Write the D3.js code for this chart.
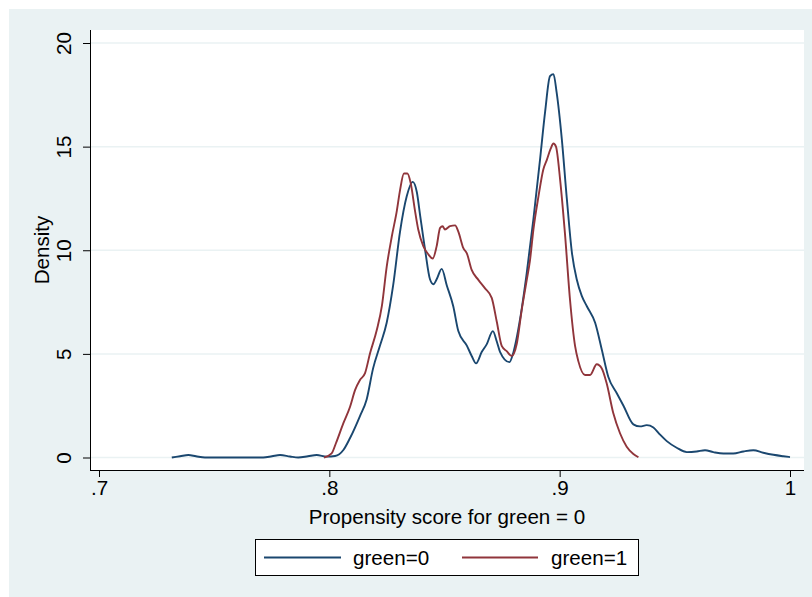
<!DOCTYPE html>
<html>
<head>
<meta charset="utf-8">
<script src="https://cdn.jsdelivr.net/npm/d3@7"></script>
<style>
  body { margin: 0; background: #fff; }
  text { font-family: "Liberation Sans", Arial, sans-serif; fill: #000; }
</style>
</head>
<body>
<svg id="chart" width="812" height="597"></svg>
<script>
// ---- Data ----
const seriesNames = ["green=0", "green=1"];
const seriesColors = ["#1a476f", "#90353b"];

// green=0 : [propensity score, density]
const green0 = [
  [0.7316,0.00],[0.7352,0.06],[0.7388,0.12],[0.7421,0.06],[0.7460,0.00],[0.7569,0.00],
  [0.7713,0.00],[0.7751,0.06],[0.7786,0.12],[0.7829,0.05],[0.7865,0.00],[0.7907,0.06],
  [0.7945,0.12],[0.7989,0.04],[0.8025,0.07],[0.8061,0.36],[0.8090,0.94],[0.8133,2.0],
  [0.8162,2.8],[0.8190,4.3],[0.8220,5.4],[0.8249,6.5],[0.8277,8.3],[0.8307,10.9],
  [0.8336,12.6],[0.8362,13.3],[0.8380,12.8],[0.8394,11.7],[0.8416,10.0],[0.8437,8.6],
  [0.8452,8.36],[0.8466,8.6],[0.8488,9.1],[0.8510,8.3],[0.8538,7.3],[0.8560,6.1],
  [0.8597,5.4],[0.8618,4.9],[0.8637,4.54],[0.8662,5.1],[0.8683,5.46],[0.8710,6.1],
  [0.8727,5.6],[0.8741,5.1],[0.8782,4.6],[0.8799,5.07],[0.8828,6.67],[0.8857,8.9],
  [0.8886,11.5],[0.8915,14.4],[0.8937,16.7],[0.8958,18.4],[0.8973,18.5],[0.8987,17.6],
  [0.9009,15.4],[0.9031,12.5],[0.9053,9.9],[0.9074,8.6],[0.9096,7.8],[0.9118,7.3],
  [0.9154,6.5],[0.9183,5.2],[0.9211,3.9],[0.9248,3.1],[0.9277,2.5],[0.9320,1.6],
  [0.9349,1.5],[0.9378,1.56],[0.9407,1.45],[0.9436,1.1],[0.9465,0.79],[0.9508,0.47],
  [0.9552,0.26],[0.9595,0.29],[0.9631,0.35],[0.9667,0.26],[0.9711,0.19],[0.9754,0.19],
  [0.9798,0.29],[0.9841,0.35],[0.9884,0.23],[0.9928,0.13],[0.9971,0.06],[1.0000,0.02]
];

// green=1 : [propensity score, density]
const green1 = [
  [0.7977,0.00],[0.8010,0.2],[0.8029,0.7],[0.8061,1.66],[0.8090,2.45],[0.8112,3.26],
  [0.8133,3.74],[0.8155,4.07],[0.8177,5.04],[0.8206,6.15],[0.8228,7.3],[0.8249,9.2],
  [0.8271,10.65],[0.8293,11.9],[0.8307,12.9],[0.8324,13.7],[0.8339,13.7],[0.8353,13.25],
  [0.8372,11.9],[0.8386,11.0],[0.8408,10.2],[0.8430,9.8],[0.8449,9.6],[0.8466,10.2],
  [0.8481,11.08],[0.8492,11.16],[0.8502,11.0],[0.8524,11.16],[0.8546,11.2],[0.8560,10.9],
  [0.8582,10.1],[0.8597,9.85],[0.8618,9.05],[0.8647,8.57],[0.8676,8.16],[0.8705,7.7],
  [0.8727,6.55],[0.8749,5.37],[0.8770,5.13],[0.8792,4.9],[0.8814,5.5],[0.8835,7.1],
  [0.8857,8.56],[0.8871,9.5],[0.8886,11.0],[0.8908,12.6],[0.8929,13.9],[0.8944,14.35],
  [0.8961,14.9],[0.8973,15.15],[0.8984,15.0],[0.9002,13.4],[0.9023,10.8],[0.9045,7.6],
  [0.9067,5.37],[0.9081,4.65],[0.9110,3.98],[0.9132,3.98],[0.9161,4.5],[0.9183,4.3],
  [0.9204,3.58],[0.9233,2.13],[0.9262,1.17],[0.9291,0.52],[0.9320,0.17],[0.9342,0.01]
];

const xTicks = [0.7, 0.8, 0.9, 1.0];
const xTickLabels = [".7", ".8", ".9", "1"];
const yTicks = [0, 5, 10, 15, 20];
const yTickLabels = ["0", "5", "10", "15", "20"];
const xTitle = "Propensity score for green = 0";
const yTitle = "Density";

// ---- Layout ----
const svg = d3.select("#chart");
const bg = "#eaf2f3";
const fs = "20.6px";
const plot = { left: 90, right: 804, top: 30, bottom: 470 };

svg.append("rect").attr("x", 9).attr("y", 9).attr("width", 803).attr("height", 588).attr("fill", bg);
svg.append("rect").attr("x", plot.left).attr("y", plot.top)
  .attr("width", plot.right - plot.left).attr("height", plot.bottom - plot.top).attr("fill", "#fff");

const x = d3.scaleLinear().domain([0.7, 1.0]).range([99, 790]);
const y = d3.scaleLinear().domain([0, 20]).range([457.5, 43]);

// gridlines
svg.append("g").selectAll("line").data(yTicks).join("line")
  .attr("x1", plot.left).attr("x2", plot.right)
  .attr("y1", d => y(d)).attr("y2", d => y(d))
  .attr("stroke", bg).attr("stroke-width", 1.5);

// curves
const line = d3.line().x(d => x(d[0])).y(d => y(d[1])).curve(d3.curveMonotoneX);
[green0, green1].forEach((s, i) => {
  svg.append("path").datum(s).attr("d", line)
    .attr("fill", "none").attr("stroke", seriesColors[i]).attr("stroke-width", 1.9)
    .attr("stroke-linejoin", "round");
});

// y axis
const yAxis = svg.append("g").attr("transform", `translate(${plot.left},0)`)
  .call(d3.axisLeft(y).tickValues(yTicks).tickFormat((d, i) => yTickLabels[i]).tickSize(7).tickSizeOuter(0));
yAxis.select(".domain").remove();
yAxis.selectAll(".tick line").attr("stroke", "#000");
yAxis.selectAll(".tick text")
  .attr("transform", "rotate(-90)")
  .attr("x", 0).attr("y", -19).attr("dy", 0)
  .attr("text-anchor", "middle")
  .style("font-size", fs).style("font-family", "'Liberation Sans', Arial, sans-serif").attr("fill", "#000");
svg.append("line").attr("x1", plot.left + 0.5).attr("x2", plot.left + 0.5)
  .attr("y1", plot.top).attr("y2", plot.bottom).attr("stroke", "#000").attr("stroke-width", 1);

// x axis
const xAxis = svg.append("g").attr("transform", `translate(0,${plot.bottom})`)
  .call(d3.axisBottom(x).tickValues(xTicks).tickFormat((d, i) => xTickLabels[i]).tickSize(7).tickSizeOuter(0));
xAxis.select(".domain").remove();
xAxis.selectAll(".tick line").attr("stroke", "#000");
xAxis.selectAll(".tick text")
  .attr("y", 25).attr("dy", 0)
  .style("font-size", fs).style("font-family", "'Liberation Sans', Arial, sans-serif").attr("fill", "#000");
svg.append("line").attr("x1", plot.left).attr("x2", plot.right)
  .attr("y1", plot.bottom + 0.5).attr("y2", plot.bottom + 0.5).attr("stroke", "#000").attr("stroke-width", 1);

// axis titles
svg.append("text").attr("x", (plot.left + plot.right) / 2).attr("y", 524)
  .attr("text-anchor", "middle").style("font-size", fs).text(xTitle);
svg.append("text").attr("transform", `translate(49,${(plot.top + plot.bottom) / 2}) rotate(-90)`)
  .attr("text-anchor", "middle").style("font-size", fs).text(yTitle);

// legend
const lg = svg.append("g");
lg.append("rect").attr("x", 255.5).attr("y", 539.5).attr("width", 383).attr("height", 36)
  .attr("fill", "#fff").attr("stroke", "#000").attr("stroke-width", 1);
const legendItems = [{ x1: 264, x2: 341, tx: 353 }, { x1: 462, x2: 538, tx: 551 }];
seriesNames.forEach((name, i) => {
  const it = legendItems[i];
  lg.append("line").attr("x1", it.x1).attr("x2", it.x2).attr("y1", 557.5).attr("y2", 557.5)
    .attr("stroke", seriesColors[i]).attr("stroke-width", 1.9);
  lg.append("text").attr("x", it.tx).attr("y", 564.5).style("font-size", fs).text(name);
});
</script>
</body>
</html>
